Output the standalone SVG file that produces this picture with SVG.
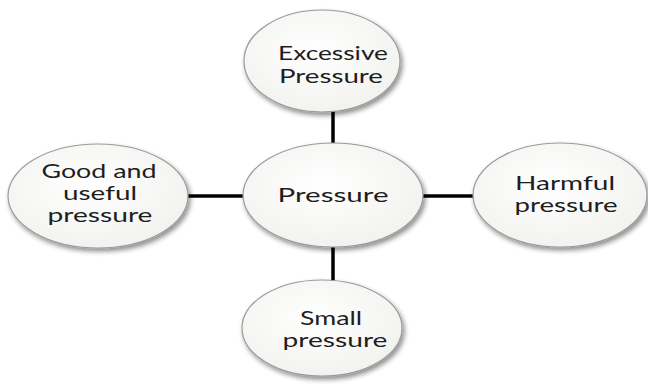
<svg xmlns="http://www.w3.org/2000/svg" width="648" height="384" viewBox="0 0 648 384">
  <defs>
    <radialGradient id="fillGrad" cx="0.45" cy="0.4" r="0.65">
      <stop offset="0" stop-color="#ffffff"/>
      <stop offset="1" stop-color="#f1f1ee"/>
    </radialGradient>
    <filter id="shadow" x="-20%" y="-20%" width="140%" height="150%">
      <feGaussianBlur in="SourceAlpha" stdDeviation="2.5"/>
      <feOffset dx="2" dy="3" result="b"/>
      <feComponentTransfer><feFuncA type="linear" slope="0.45"/></feComponentTransfer>
      <feMerge><feMergeNode/><feMergeNode in="SourceGraphic"/></feMerge>
    </filter>
  </defs>
  <style>
    .node ellipse { fill: url(#fillGrad); stroke: #9a9a9a; stroke-width: 1.2; filter: url(#shadow); }
    .node text { font-family: Lato, "Liberation Sans", sans-serif; font-size: 19px; fill: #1e1e1e; text-anchor: middle; }
    .conn line { stroke: #000; stroke-width: 3.5; }
  </style>
  <rect width="648" height="384" fill="#ffffff"/>
  <g id="connectors" class="conn">
    <line x1="333" y1="110" x2="333" y2="145"/>
    <line x1="333" y1="245" x2="333" y2="282"/>
    <line x1="186" y1="196" x2="245" y2="196"/>
    <line x1="421" y1="196" x2="475" y2="196"/>
  </g>
  <g id="node-excessive" class="node">
    <ellipse cx="322" cy="61" rx="78" ry="51"/>
    <text x="333" y="60" textLength="110" lengthAdjust="spacingAndGlyphs">Excessive</text>
    <text x="331" y="83" textLength="104" lengthAdjust="spacingAndGlyphs">Pressure</text>
  </g>
  <g id="node-pressure" class="node">
    <ellipse cx="333" cy="195" rx="90" ry="52"/>
    <text x="333" y="202" textLength="111" lengthAdjust="spacingAndGlyphs">Pressure</text>
  </g>
  <g id="node-good" class="node">
    <ellipse cx="98" cy="196" rx="90" ry="52"/>
    <text x="99" y="178" textLength="115" lengthAdjust="spacingAndGlyphs">Good and</text>
    <text x="100" y="200" textLength="74" lengthAdjust="spacingAndGlyphs">useful</text>
    <text x="100" y="222" textLength="105" lengthAdjust="spacingAndGlyphs">pressure</text>
  </g>
  <g id="node-harmful" class="node">
    <ellipse cx="560" cy="195" rx="87" ry="52"/>
    <text x="565" y="190" textLength="100" lengthAdjust="spacingAndGlyphs">Harmful</text>
    <text x="566" y="212" textLength="103" lengthAdjust="spacingAndGlyphs">pressure</text>
  </g>
  <g id="node-small" class="node">
    <ellipse cx="322" cy="328" rx="80" ry="48"/>
    <text x="331" y="325" textLength="62" lengthAdjust="spacingAndGlyphs">Small</text>
    <text x="335" y="347" textLength="105" lengthAdjust="spacingAndGlyphs">pressure</text>
  </g>
</svg>
